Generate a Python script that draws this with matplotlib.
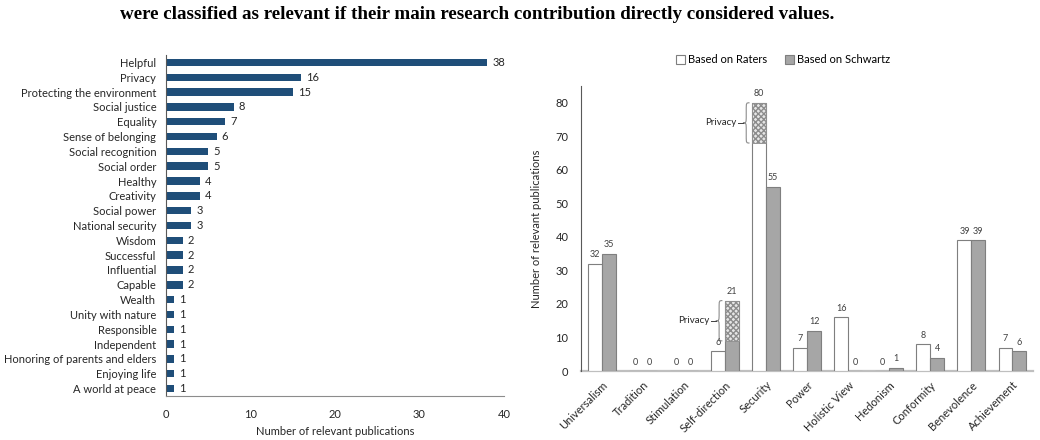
import matplotlib.pyplot as plt
import numpy as np
from matplotlib.path import Path
from matplotlib.patches import PathPatch, Patch

plt.rcParams['font.family'] = ['Lato', 'DejaVu Sans']

# left chart: values of individual value items
value_names = ['Helpful', 'Privacy', 'Protecting the environment', 'Social justice',
               'Equality', 'Sense of belonging', 'Social recognition', 'Social order',
               'Healthy', 'Creativity', 'Social power', 'National security', 'Wisdom',
               'Successful', 'Influential', 'Capable', 'Wealth', 'Unity with nature',
               'Responsible', 'Independent', 'Honoring of parents and elders',
               'Enjoying life', 'A world at peace']
value_counts = [38, 16, 15, 8, 7, 6, 5, 5, 4, 4, 3, 3, 2, 2, 2, 2, 1, 1, 1, 1, 1, 1, 1]

# right chart: Schwartz categories
categories = ['Universalism', 'Tradition', 'Stimulation', 'Self-direction', 'Security',
              'Power', 'Holistic View', 'Hedonism', 'Conformity', 'Benevolence',
              'Achievement']
raters = [32, 0, 0, 6, 80, 7, 16, 0, 8, 39, 7]
schwartz = [35, 0, 0, 21, 55, 12, 0, 1, 4, 39, 6]
# part of the bar that comes from "Privacy"
privacy_raters = [0, 0, 0, 0, 12, 0, 0, 0, 0, 0, 0]
privacy_schwartz = [0, 0, 0, 12, 0, 0, 0, 0, 0, 0, 0]

fig = plt.figure(figsize=(10.4, 4.4), dpi=100)

fig.text(0.1155, 0.968, 'were classified as relevant if their main research contribution '
         'directly considered values.', family='Liberation Serif', fontweight='bold',
         fontsize=13.7, ha='left', va='center', color='black')

# ---- left chart
ax1 = fig.add_axes([0.1596, 0.1, 0.325, 0.775])
y = np.arange(len(value_names))
ax1.barh(y, value_counts, height=0.5, color='#1f4e79')
for yi, v in zip(y, value_counts):
    ax1.text(v + 0.6, yi, str(v), va='center', ha='left', fontsize=8, color='#262626')
ax1.set_yticks(y)
ax1.set_yticklabels(value_names, fontsize=8, color='#262626')
ax1.set_ylim(len(value_names) - 0.5, -0.5)
ax1.set_xlim(0, 40)
ax1.set_xticks([0, 10, 20, 30, 40])
ax1.tick_params(axis='both', length=0, labelsize=8, colors='#262626')
ax1.tick_params(axis='y', pad=7)
ax1.tick_params(axis='x', pad=9)
ax1.set_xlabel('Number of relevant publications', fontsize=8, color='#262626', labelpad=5)
for s in ['top', 'right']:
    ax1.spines[s].set_visible(False)
ax1.spines['left'].set_color('#595959')
ax1.spines['left'].set_linewidth(0.8)
ax1.spines['bottom'].set_color('#8c8c8c')
ax1.spines['bottom'].set_linewidth(0.8)

# ---- right chart
ax2 = fig.add_axes([0.5587, 0.1568, 0.4346, 0.6477])
x = np.arange(len(categories))
w = 0.34
edge = '#7f7f7f'
ax2.bar(x - w / 2, raters, width=w, color='white', edgecolor=edge, linewidth=0.8)
ax2.bar(x + w / 2, schwartz, width=w, color='#a6a6a6', edgecolor=edge, linewidth=0.8)

# hatched privacy parts on top of the bars
pr = np.array(privacy_raters)
ps = np.array(privacy_schwartz)
m = pr > 0
ax2.bar((x - w / 2)[m], pr[m], bottom=np.array(raters)[m] - pr[m], width=w,
        color='#e6e6e6', edgecolor='#8c8c8c', hatch='xxxxxx', linewidth=0.6)
m = ps > 0
ax2.bar((x + w / 2)[m], ps[m], bottom=np.array(schwartz)[m] - ps[m], width=w,
        color='#e6e6e6', edgecolor='#8c8c8c', hatch='xxxxxx', linewidth=0.6)

for xi, r, s in zip(x, raters, schwartz):
    ax2.text(xi - w / 2, r + 1.3, str(r), ha='center', va='bottom', fontsize=6.5,
             color='#404040')
    ax2.text(xi + w / 2, s + 1.3, str(s), ha='center', va='bottom', fontsize=6.5,
             color='#404040')


def brace(ax, xr, y0, y1, bw=0.16, d=2.2):
    # curly brace "{" whose opening faces right at xr, tip on the left
    xm = xr - bw / 2
    xl = xr - bw
    ym = (y0 + y1) / 2
    verts = [(xr, y1), (xm, y1), (xm, y1), (xm, y1 - d),
             (xm, ym + d),
             (xm, ym), (xm, ym), (xl, ym),
             (xm, ym), (xm, ym), (xm, ym - d),
             (xm, y0 + d),
             (xm, y0), (xm, y0), (xr, y0)]
    codes = [Path.MOVETO, Path.CURVE4, Path.CURVE4, Path.CURVE4,
             Path.LINETO,
             Path.CURVE4, Path.CURVE4, Path.CURVE4,
             Path.CURVE4, Path.CURVE4, Path.CURVE4,
             Path.LINETO,
             Path.CURVE4, Path.CURVE4, Path.CURVE4]
    ax.add_patch(PathPatch(Path(verts, codes), fill=False, edgecolor='#8c8c8c',
                           linewidth=0.8))
    ax.plot([xl - 0.12, xl], [ym, ym], color='#404040', linewidth=0.7)
    ax.text(xl - 0.16, ym, 'Privacy', ha='right', va='center', fontsize=7,
            color='#262626')


for i in range(len(categories)):
    if privacy_raters[i] > 0:
        brace(ax2, x[i] - w - 0.06, raters[i] - privacy_raters[i], raters[i])
    if privacy_schwartz[i] > 0:
        brace(ax2, x[i] - 0.06, schwartz[i] - privacy_schwartz[i], schwartz[i])

ax2.set_xlim(-0.5, len(categories) - 0.5)
ax2.set_ylim(0, 85)
ax2.set_yticks(np.arange(0, 81, 10))
ax2.set_xticks(x)
ax2.set_xticklabels(categories, rotation=45, ha='right', rotation_mode='anchor',
                    fontsize=8, color='#262626')
ax2.tick_params(axis='both', length=0, labelsize=8, colors='#262626')
ax2.tick_params(axis='y', pad=9)
ax2.tick_params(axis='x', pad=6)
ax2.set_ylabel('Number of relevant publications', fontsize=8, color='#262626',
               labelpad=10)
for s in ['top', 'right']:
    ax2.spines[s].set_visible(False)
ax2.spines['left'].set_color('#595959')
ax2.spines['left'].set_linewidth(0.8)
ax2.spines['bottom'].set_color('#bfbfbf')
ax2.spines['bottom'].set_linewidth(1.6)
ax2.spines['bottom'].set_zorder(0.5)

handles = [Patch(facecolor='white', edgecolor=edge, linewidth=0.8, label='Based on Raters'),
           Patch(facecolor='#a6a6a6', edgecolor=edge, linewidth=0.8,
                 label='Based on Schwartz')]
fig.legend(handles=handles, loc='center', bbox_to_anchor=(0.753, 0.864), ncol=2,
           frameon=False, fontsize=8, handlelength=0.8, handleheight=0.8,
           handletextpad=0.3, columnspacing=1.6)

fig.savefig('out.png', dpi=100, facecolor='white')
